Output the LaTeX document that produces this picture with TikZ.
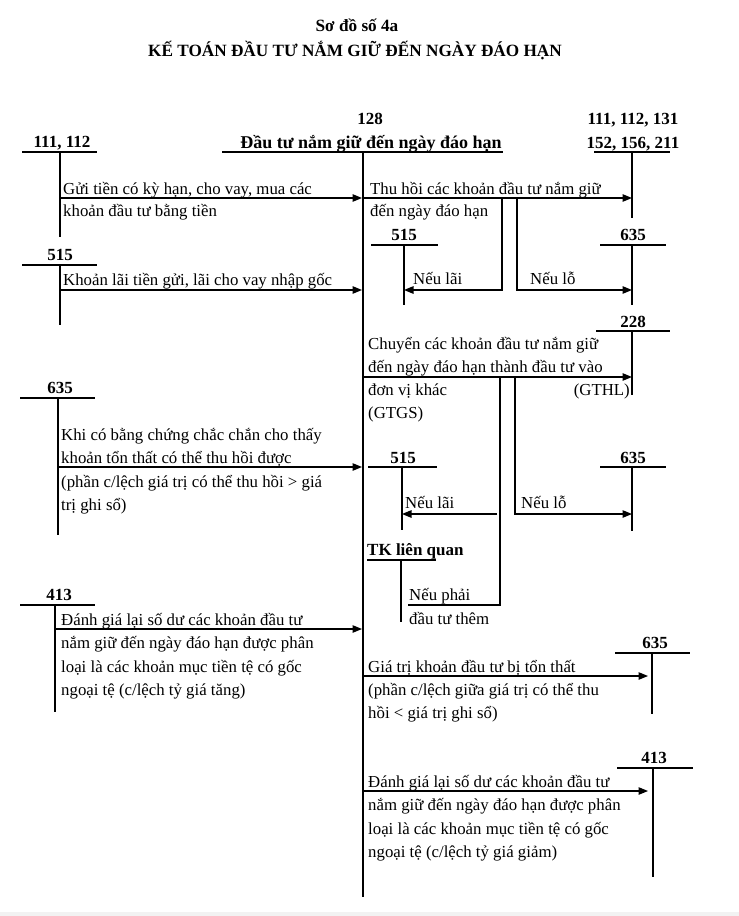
\documentclass[tikz,border=0pt]{standalone}
\usepackage{fontspec}
\setmainfont{Liberation Serif}
\usetikzlibrary{arrows.meta}
\begin{document}
\begin{tikzpicture}[x=1pt,y=-1pt,
  txt/.style={font=\fontsize{16.8}{18}\selectfont, inner sep=0pt, anchor=base west},
  txtr/.style={font=\fontsize{16.8}{18}\selectfont, inner sep=0pt, anchor=base east},
  lbl/.style={font=\bfseries\fontsize{17}{18}\selectfont, inner sep=0pt, anchor=base},
  lblw/.style={font=\bfseries\fontsize{17}{18}\selectfont, inner sep=0pt, anchor=base west},
  ttl/.style={font=\bfseries\fontsize{17.2}{20}\selectfont, inner sep=0pt, anchor=base},
  ln/.style={line width=1.1pt},
  arr/.style={line width=1.2pt, -{Triangle[length=9.5pt,width=7.5pt]}},
  brl/.style={line width=1.2pt}]
\useasboundingbox (0,0) rectangle (739,916);
\fill[gray!10] (0,912) rectangle (739,916);

% title
\node[ttl] (title1) at (357,31) {Sơ đồ số 4a};
\node[ttl] (title2) at (355,56) {KẾ TOÁN ĐẦU TƯ NẮM GIỮ ĐẾN NGÀY ĐÁO HẠN};

% main account 128
\node[lbl] (m128) at (370,124) {128};
\node[lbl, font=\bfseries\fontsize{18}{20}\selectfont] (mname) at (371,148) {Đầu tư nắm giữ đến ngày đáo hạn};
\coordinate (mL) at (222,152); \coordinate (mR) at (503,152);
\coordinate (mTop) at (363,151); \coordinate (mBot) at (363,897);
\draw[line width=2pt] (mL) -- (mR);
\draw[line width=2.2pt] (mTop) -- (mBot);

% ---------- left side ----------
% 111, 112
\node[lbl] (a111) at (62,147) {111, 112};
\coordinate (a111L) at (22,152); \coordinate (a111R) at (97,152);
\coordinate (a111T) at (60,152); \coordinate (a111B) at (60,237);
\draw[ln] (a111L) -- (a111R); \draw[ln] (a111T) -- (a111B);
\coordinate (a111o) at (60,198); \coordinate (m1) at (362,198);
\draw[arr] (a111o) -- (m1);
\node[txt] (t1a) at (63,194) {Gửi tiền có kỳ hạn, cho vay, mua các};
\node[txt] (t1b) at (63,216) {khoản đầu tư bằng tiền};

% 515
\node[lbl] (a515) at (60,260) {515};
\coordinate (a515L) at (22,265); \coordinate (a515R) at (97,265);
\coordinate (a515T) at (60,265); \coordinate (a515B) at (60,325);
\draw[ln] (a515L) -- (a515R); \draw[ln] (a515T) -- (a515B);
\coordinate (a515o) at (60,290); \coordinate (m2) at (362,290);
\draw[arr] (a515o) -- (m2);
\node[txt] (t2a) at (63,285) {Khoản lãi tiền gửi, lãi cho vay nhập gốc};

% 635
\node[lbl] (a635) at (60,393) {635};
\coordinate (a635L) at (20,398); \coordinate (a635R) at (95,398);
\coordinate (a635T) at (58,398); \coordinate (a635B) at (58,535);
\draw[ln] (a635L) -- (a635R); \draw[ln] (a635T) -- (a635B);
\coordinate (a635o) at (58,467); \coordinate (m3) at (362,467);
\draw[arr] (a635o) -- (m3);
\node[txt] (t3a) at (61,440) {Khi có bằng chứng chắc chắn cho thấy};
\node[txt] (t3b) at (61,463.5) {khoản tổn thất có thể thu hồi được};
\node[txt] (t3c) at (61,487) {(phần c/lệch giá trị có thể thu hồi > giá};
\node[txt] (t3d) at (61,510.5) {trị ghi sổ)};

% 413
\node[lbl] (a413) at (59,600) {413};
\coordinate (a413L) at (20,605); \coordinate (a413R) at (95,605);
\coordinate (a413T) at (55,605); \coordinate (a413B) at (55,712);
\draw[ln] (a413L) -- (a413R); \draw[ln] (a413T) -- (a413B);
\coordinate (a413o) at (55,629); \coordinate (m4) at (362,629);
\draw[arr] (a413o) -- (m4);
\node[txt] (t4a) at (61,625) {Đánh giá lại số dư các khoản đầu tư};
\node[txt] (t4b) at (61,648.5) {nắm giữ đến ngày đáo hạn được phân};
\node[txt] (t4c) at (61,672) {loại là các khoản mục tiền tệ có gốc};
\node[txt] (t4d) at (61,695.5) {ngoại tệ (c/lệch tỷ giá tăng)};

% ---------- right side ----------
% 111,112,131 / 152,156,211
\node[lbl] (b111a) at (633,124) {111, 112, 131};
\node[lbl] (b111b) at (633,148) {152, 156, 211};
\coordinate (b111L) at (594,152); \coordinate (b111R) at (670,152);
\coordinate (b111T) at (632,152); \coordinate (b111B) at (632,218);
\draw[ln] (b111L) -- (b111R); \draw[ln] (b111T) -- (b111B);
\coordinate (m5) at (364,198); \coordinate (b111i) at (632,198);
\draw[arr] (m5) -- (b111i);
\node[txt] (t5a) at (370,194) {Thu hồi các khoản đầu tư nắm giữ};
\node[txt] (t5b) at (370,216) {đến ngày đáo hạn};

% 515 (1)
\node[lbl] (c515) at (404,240) {515};
\coordinate (c515L) at (371,245); \coordinate (c515R) at (438,245);
\coordinate (c515T) at (404,245); \coordinate (c515B) at (404,305);
\draw[ln] (c515L) -- (c515R); \draw[ln] (c515T) -- (c515B);
% 635 (1)
\node[lbl] (c635) at (633,240) {635};
\coordinate (c635L) at (600,245); \coordinate (c635R) at (666,245);
\coordinate (c635T) at (632,245); \coordinate (c635B) at (632,305);
\draw[ln] (c635L) -- (c635R); \draw[ln] (c635T) -- (c635B);
% branches
\coordinate (br1a) at (502,198); \coordinate (br1b) at (502,290);
\coordinate (c515i) at (404,290);
\draw[arr] (br1a) -- (br1b) -- (c515i);
\coordinate (br2a) at (517,198); \coordinate (br2b) at (517,290);
\coordinate (c635i) at (632,290);
\draw[arr] (br2a) -- (br2b) -- (c635i);
\node[txt] (t6a) at (413,284) {Nếu lãi};
\node[txt] (t6b) at (530,284) {Nếu lỗ};

% 228
\node[lbl] (d228) at (633,327) {228};
\coordinate (d228L) at (596,331); \coordinate (d228R) at (670,331);
\coordinate (d228T) at (632,331); \coordinate (d228B) at (632,395);
\draw[ln] (d228L) -- (d228R); \draw[ln] (d228T) -- (d228B);
\coordinate (m6) at (364,377); \coordinate (d228i) at (632,377);
\draw[arr] (m6) -- (d228i);
\node[txt] (t7a) at (368,349) {Chuyển các khoản đầu tư nắm giữ};
\node[txt] (t7b) at (368,372) {đến ngày đáo hạn thành đầu tư vào};
\node[txt] (t7c) at (368,395) {đơn vị khác};
\node[txt] (t7d) at (368,418) {(GTGS)};
\node[txtr] (t7e) at (630,395) {(GTHL)};

% 515 (2)
\node[lbl] (e515) at (403,463) {515};
\coordinate (e515L) at (368,467); \coordinate (e515R) at (437,467);
\coordinate (e515T) at (402,467); \coordinate (e515B) at (402,530);
\draw[ln] (e515L) -- (e515R); \draw[ln] (e515T) -- (e515B);
% 635 (2)
\node[lbl] (e635) at (633,463) {635};
\coordinate (e635L) at (600,467); \coordinate (e635R) at (666,467);
\coordinate (e635T) at (632,467); \coordinate (e635B) at (632,531);
\draw[ln] (e635L) -- (e635R); \draw[ln] (e635T) -- (e635B);
% branches
\coordinate (br3a) at (500,377); \coordinate (br3b) at (500,605);
\coordinate (br3c) at (408,605);
\draw[brl] (br3a) -- (br3b) -- (br3c);
\coordinate (br3m) at (497,514); \coordinate (e515i) at (402,514);
\draw[arr] (br3m) -- (e515i);
\coordinate (br4a) at (515,377); \coordinate (br4b) at (515,514);
\coordinate (e635i) at (632,514);
\draw[arr] (br4a) -- (br4b) -- (e635i);
\node[txt] (t8a) at (405,508) {Nếu lãi};
\node[txt] (t8b) at (521,508) {Nếu lỗ};

% TK lien quan
\node[lblw] (ftk) at (367,555) {TK liên quan};
\coordinate (ftkL) at (367,560); \coordinate (ftkR) at (436,560);
\coordinate (ftkT) at (401,560); \coordinate (ftkB) at (401,622);
\draw[ln] (ftkL) -- (ftkR); \draw[ln] (ftkT) -- (ftkB);
\node[txt] (t9a) at (409,600) {Nếu phải};
\node[txt] (t9b) at (409,624) {đầu tư thêm};

% 635 (3)
\node[lbl] (g635) at (655,648) {635};
\coordinate (g635L) at (615,653); \coordinate (g635R) at (690,653);
\coordinate (g635T) at (652,653); \coordinate (g635B) at (652,714);
\draw[ln] (g635L) -- (g635R); \draw[ln] (g635T) -- (g635B);
\coordinate (m7) at (364,676); \coordinate (g635i) at (648,676);
\draw[arr] (m7) -- (g635i);
\node[txt] (t10a) at (368,672) {Giá trị khoản đầu tư bị tổn thất};
\node[txt] (t10b) at (368,695) {(phần c/lệch giữa giá trị có thể thu};
\node[txt] (t10c) at (368,718) {hồi < giá trị ghi sổ)};

% 413 (4)
\node[lbl] (h413) at (654,763) {413};
\coordinate (h413L) at (617,768); \coordinate (h413R) at (693,768);
\coordinate (h413T) at (653,768); \coordinate (h413B) at (653,877);
\draw[ln] (h413L) -- (h413R); \draw[ln] (h413T) -- (h413B);
\coordinate (m8) at (364,791); \coordinate (h413i) at (648,791);
\draw[arr] (m8) -- (h413i);
\node[txt] (t11a) at (368,787) {Đánh giá lại số dư các khoản đầu tư};
\node[txt] (t11b) at (368,810.5) {nắm giữ đến ngày đáo hạn được phân};
\node[txt] (t11c) at (368,834) {loại là các khoản mục tiền tệ có gốc};
\node[txt] (t11d) at (368,857.5) {ngoại tệ (c/lệch tỷ giá giảm)};
\end{tikzpicture}
\end{document}
